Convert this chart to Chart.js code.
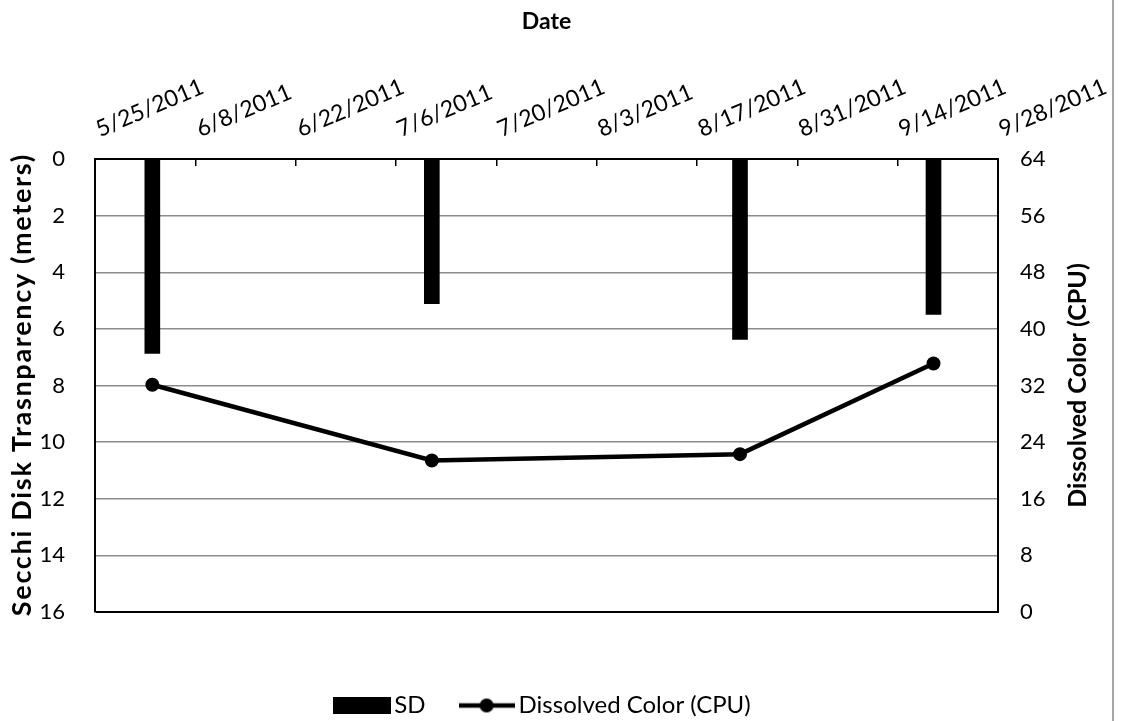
<!DOCTYPE html>
<html>
<head>
<meta charset="utf-8">
<script src="https://cdn.jsdelivr.net/npm/chart.js@4.4.0/dist/chart.umd.min.js"></script>
<style>
html,body{margin:0;padding:0;background:#fff;}
#wrap{width:1121px;height:721px;position:relative;}
canvas{display:block;}
</style>
</head>
<body>
<div id="wrap"><canvas id="c" width="1121" height="721"></canvas></div>
<script>
// ---- data ----
const sampleDates = ['6/2/2011', '7/11/2011', '8/23/2011', '9/19/2011'];
const secchiDepth = [6.87, 5.11, 6.37, 5.49];          // meters (left axis, reversed)
const dissolvedColor = [32.1, 21.4, 22.3, 35.1];       // CPU (right axis)
const dateTickLabels = ['5/25/2011', '6/8/2011', '6/22/2011', '7/6/2011', '7/20/2011',
                        '8/3/2011', '8/17/2011', '8/31/2011', '9/14/2011', '9/28/2011'];
const depthTicks = [0, 2, 4, 6, 8, 10, 12, 14, 16];
const colorTicks = [0, 8, 16, 24, 32, 40, 48, 56, 64];
const seriesNames = ['SD', 'Dissolved Color (CPU)'];
const axisTitles = { x: 'Date', left: 'Secchi Disk Trasnparency (meters)', right: 'Dissolved Color (CPU)' };

// ---- helpers ----
function dayIndex(s) {
  const [m, d, y] = s.split('/').map(Number);
  const [m0, d0, y0] = dateTickLabels[0].split('/').map(Number);
  return Math.round((Date.UTC(y, m - 1, d) - Date.UTC(y0, m0 - 1, d0)) / 86400000);
}
const FONT = 'Lato';
Chart.defaults.font.family = FONT;
Chart.defaults.font.size = 23;
Chart.defaults.color = '#000';

function makeSwatch(w, h, draw) {
  const c = document.createElement('canvas');
  c.width = w; c.height = h;
  draw(c.getContext('2d'), w, h);
  return c;
}
const sdSwatch = makeSwatch(58, 17, (g, w, h) => { g.fillStyle = '#000'; g.fillRect(0, 0, w, h); });
const lineSwatch = makeSwatch(56, 16, (g, w, h) => {
  g.strokeStyle = '#000'; g.lineWidth = 4.5;
  g.beginPath(); g.moveTo(0, h / 2); g.lineTo(w, h / 2); g.stroke();
  g.fillStyle = '#000'; g.beginPath(); g.arc(w / 2, h / 2, 7, 0, Math.PI * 2); g.fill();
});

function drawVerticalTitle(ctx, text, cx, cy, size, targetLen) {
  ctx.save();
  ctx.font = 'bold ' + size + 'px ' + FONT;
  ctx.fillStyle = '#000';
  ctx.textAlign = 'center';
  ctx.textBaseline = 'middle';
  ctx.translate(cx, cy);
  ctx.rotate(-Math.PI / 2);
  if (targetLen && 'letterSpacing' in ctx) {
    const w = ctx.measureText(text).width;
    const ls = Math.max(0, (targetLen - w) / text.length);
    ctx.letterSpacing = ls.toFixed(2) + 'px';
    ctx.fillText(text, ls / 2, 0);
  } else {
    ctx.fillText(text, 0, 0);
  }
  ctx.restore();
}

const titlesPlugin = {
  id: 'sideTitles',
  afterDraw(chart) {
    const ctx = chart.ctx, a = chart.chartArea;
    const cy = (a.top + a.bottom) / 2;
    drawVerticalTitle(ctx, axisTitles.left, chart.scales.y.left + 22, cy, 27, 463);
    drawVerticalTitle(ctx, axisTitles.right, chart.scales.y2.right - 43, cy, 25, 0);
    // outer frame line on the right
    ctx.save();
    ctx.strokeStyle = '#a6a6a6';
    ctx.lineWidth = 2;
    ctx.beginPath();
    ctx.moveTo(chart.width - 8, 0);
    ctx.lineTo(chart.width - 8, chart.height);
    ctx.stroke();
    ctx.restore();
  }
};

const ctx = document.getElementById('c').getContext('2d');
new Chart(ctx, {
  type: 'bar',
  data: {
    datasets: [
      {
        type: 'bar',
        label: seriesNames[0],
        data: sampleDates.map((d, i) => ({ x: dayIndex(d), y: secchiDepth[i] })),
        backgroundColor: '#000',
        borderWidth: 0,
        barThickness: 15,
        xAxisID: 'x',
        yAxisID: 'y'
      },
      {
        type: 'line',
        label: seriesNames[1],
        data: sampleDates.map((d, i) => ({ x: dayIndex(d), y: dissolvedColor[i] })),
        borderColor: '#000',
        backgroundColor: '#000',
        borderWidth: 4.5,
        pointRadius: 6,
        pointBorderWidth: 2,
        pointBackgroundColor: '#000',
        pointBorderColor: '#000',
        tension: 0,
        xAxisID: 'x',
        yAxisID: 'y2'
      }
    ]
  },
  options: {
    responsive: false,
    animation: false,
    devicePixelRatio: 1,
    layout: { padding: 0 },
    plugins: {
      tooltip: { enabled: false },
      legend: {
        position: 'bottom',
        fullSize: false,
        maxHeight: 68.5,
        labels: {
          usePointStyle: true,
          pointStyleWidth: 40,
          padding: 41,
          font: { size: 24 },
          color: '#000',
          generateLabels: (chart) => chart.data.datasets.map((ds, i) => ({
            text: ds.label,
            pointStyle: i === 0 ? sdSwatch : lineSwatch,
            fillStyle: '#000',
            strokeStyle: '#000',
            lineWidth: 0,
            hidden: false,
            datasetIndex: i,
            fontColor: '#000'
          }))
        }
      }
    },
    scales: {
      x: {
        type: 'linear',
        position: 'top',
        offset: false,
        min: dayIndex(dateTickLabels[0]),
        max: dayIndex(dateTickLabels[dateTickLabels.length - 1]),
        afterBuildTicks: (s) => { s.ticks = dateTickLabels.map(l => ({ value: dayIndex(l) })); },
        afterFit: (s) => { s.height = 159; s.paddingLeft = 0; s.paddingRight = 0; },
        ticks: {
          autoSkip: false,
          minRotation: 23,
          maxRotation: 23,
          padding: 23,
          labelOffset: 13,
          font: { size: 23 },
          color: '#000',
          callback: (v) => { const l = dateTickLabels.find(t => dayIndex(t) === v); return l || ''; }
        },
        grid: {
          offset: false,
          drawOnChartArea: false,
          drawTicks: true,
          tickLength: -7,
          color: '#000',
          lineWidth: 1.5
        },
        border: { display: true, color: '#000', width: 2 },
        title: {
          display: true,
          text: axisTitles.x,
          font: { size: 23, weight: 'bold' },
          color: '#000',
          padding: { top: 8, bottom: 0 }
        }
      },
      y: {
        type: 'linear',
        position: 'left',
        reverse: true,
        min: depthTicks[0],
        max: depthTicks[depthTicks.length - 1],
        afterBuildTicks: (s) => { s.ticks = depthTicks.map(v => ({ value: v })); },
        afterFit: (s) => { s.width = 95; s.paddingTop = 0; s.paddingBottom = 0; },
        ticks: { padding: 30, font: { size: 22 }, color: '#000' },
        grid: {
          drawTicks: false,
          color: (c) => (c.tick && (c.tick.value === depthTicks[0] || c.tick.value === depthTicks[depthTicks.length - 1])) ? '#000' : '#8c8c8c',
          lineWidth: (c) => (c.tick && c.tick.value === depthTicks[depthTicks.length - 1]) ? 2 : 1.5
        },
        border: { display: true, color: '#000', width: 2 },
        title: { display: false, text: axisTitles.left }
      },
      y2: {
        type: 'linear',
        position: 'right',
        min: colorTicks[0],
        max: colorTicks[colorTicks.length - 1],
        afterBuildTicks: (s) => { s.ticks = colorTicks.map(v => ({ value: v })); },
        afterFit: (s) => { s.width = 123; s.paddingTop = 0; s.paddingBottom = 0; },
        ticks: { padding: 22, font: { size: 22 }, color: '#000' },
        grid: { drawOnChartArea: false, drawTicks: false },
        border: { display: true, color: '#000', width: 2 },
        title: { display: false, text: axisTitles.right }
      },
      spacer: {
        type: 'linear',
        position: 'bottom',
        display: true,
        min: 0, max: 1,
        ticks: { display: false },
        grid: { display: false, drawTicks: false },
        border: { display: false },
        afterFit: (s) => { s.height = 40.5; }
      }
    }
  },
  plugins: [titlesPlugin]
});
</script>
</body>
</html>
